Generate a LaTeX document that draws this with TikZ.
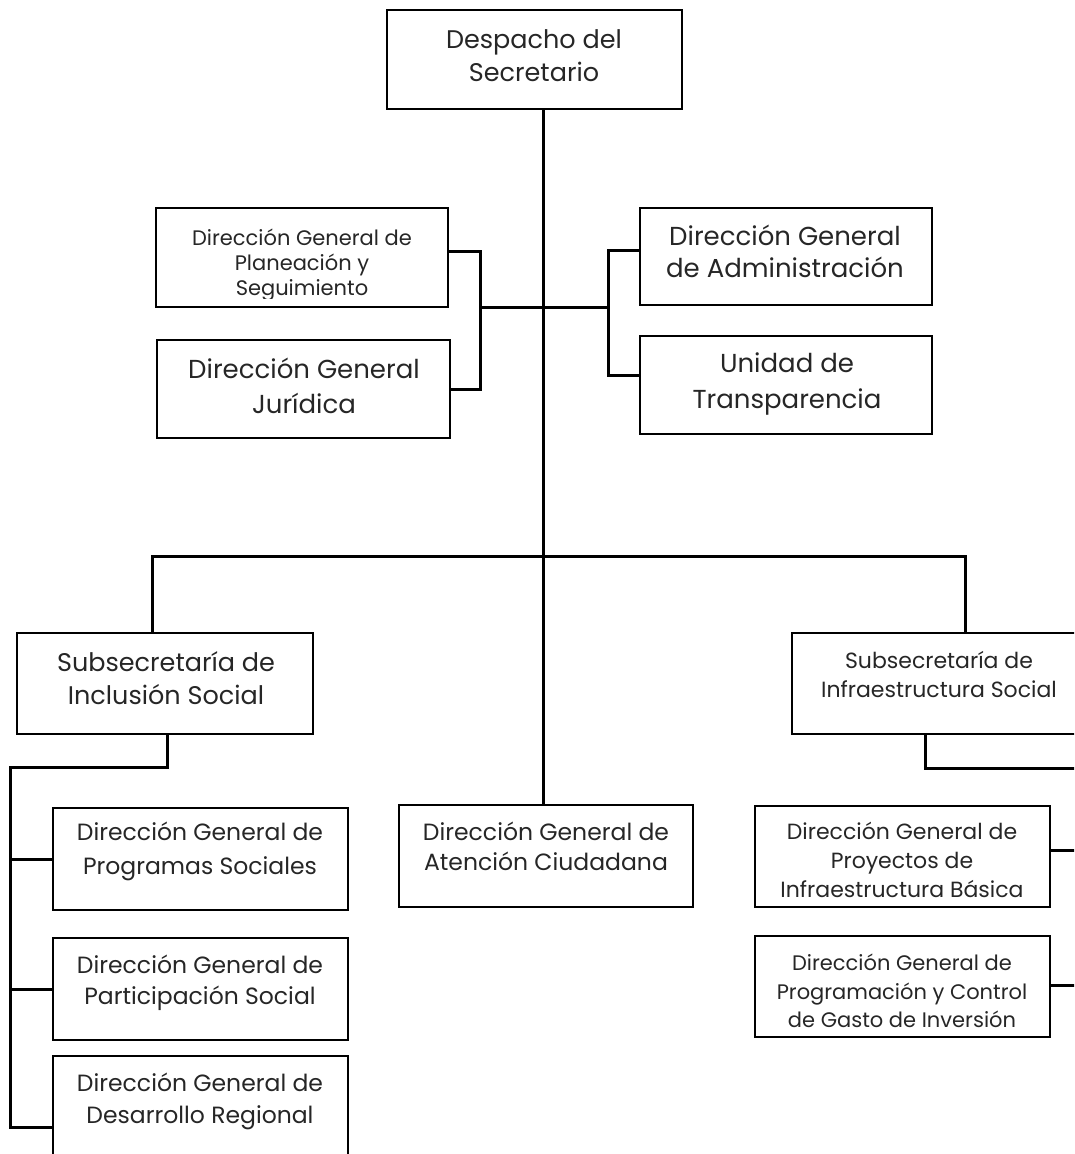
\documentclass[tikz,border=0pt]{standalone}
\usepackage{fontspec}
\setmainfont{Poppins}
\begin{document}
\begin{tikzpicture}[x=1pt,y=-1pt,
  box/.style={draw=black, line width=2.2pt, rectangle, inner sep=0pt, outer sep=0pt},
  conn/.style={draw=black, line width=3pt},
  tl/.style={anchor=base, inner sep=0pt, outer sep=0pt, text=black!85},
  fA/.style={font=\fontsize{25.5}{25.5}\selectfont},
  fB/.style={font=\fontsize{26}{26}\selectfont},
  fC/.style={font=\fontsize{21}{21}\selectfont},
  fD/.style={font=\fontsize{22}{22}\selectfont},
  fF/.style={font=\fontsize{23.5}{23.5}\selectfont},
  fE/.style={font=\fontsize{25.5}{25.5}\selectfont}]
\useasboundingbox (0,0) rectangle (1074,1154);
\clip (0,0) rectangle (1074,1154);

% boxes
\node[box, minimum width=295, minimum height=99] (desp) at (534.5,59.5) {};
\node[box, minimum width=292, minimum height=99] (plan) at (302,257.5) {};
\node[box, minimum width=293, minimum height=98] (jur) at (303.5,389) {};
\node[box, minimum width=292, minimum height=97] (admin) at (786,256.5) {};
\node[box, minimum width=292, minimum height=98] (unid) at (786,385) {};
\node[box, minimum width=296, minimum height=101] (incl) at (165,683.5) {};
\node[box, minimum width=294, minimum height=101] (infra) at (939,683.5) {};
\node[box, minimum width=294, minimum height=102] (aten) at (546,856) {};
\node[box, minimum width=295, minimum height=102] (prog) at (200.5,859) {};
\node[box, minimum width=295, minimum height=102] (part) at (200.5,989) {};
\node[box, minimum width=295, minimum height=102] (desa) at (200.5,1107) {};
\node[box, minimum width=295, minimum height=101] (proy) at (902.5,856.5) {};
\node[box, minimum width=295, minimum height=101] (progr) at (902.5,986.5) {};

% helper coordinates
\coordinate (mx) at (543,0);
\coordinate (lbr) at (480,307);
\coordinate (rbr) at (608,307);
\coordinate (hbL) at (152,556);
\coordinate (hbR) at (965,556);
\coordinate (istub) at (167,767);
\coordinate (ileft) at (10,767);
\coordinate (ibot) at (10,1127);
\coordinate (fstub) at (925,768);
\coordinate (fend) at (1090,768);
\coordinate (pend1) at (1090,850);
\coordinate (pend2) at (1090,985);

% connectors
\draw[conn] (desp.south -| mx) -- (aten.north -| mx);
\draw[conn] (lbr) -- (rbr);
\draw[conn] (plan.east |- 0,251) -| (lbr) |- (jur.east);
\draw[conn] (admin.west |- 0,250) -| (rbr) |- (unid.west |- 0,375);
\draw[conn] (incl.north -| hbL) |- (hbR) -- (infra.north -| hbR);
\draw[conn] (incl.south -| istub) |- (ileft) -- (ibot) -- (desa.west |- ibot);
\draw[conn] (ileft |- prog.west) -- (prog.west);
\draw[conn] (ileft |- part.west) -- (part.west);
\draw[conn] (infra.south -| fstub) |- (fend);
\draw[conn] (proy.east |- pend1) -- (pend1);
\draw[conn] (progr.east |- pend2) -- (pend2);

% texts
\node[tl,fA] (t1a) at (534,48) {Despacho del};
\node[tl,fA] (t1b) at (534,81) {Secretario};

\begin{scope}
\clip (158,210) rectangle (446,298);
\node[tl,fC] (t2a) at (302,245) {Dirección General de};
\node[tl,fC] (t2b) at (302,270) {Planeación y};
\node[tl,fC] (t2c) at (302,295) {Seguimiento};
\end{scope}

\node[tl,fB] (t3a) at (304,378) {Dirección General};
\node[tl,fB] (t3b) at (304,413) {Jurídica};

\node[tl,fB] (t4a) at (785,245) {Dirección General};
\node[tl,fB] (t4b) at (785,277) {de Administración};

\node[tl,fB] (t5a) at (787,372) {Unidad de};
\node[tl,fB] (t5b) at (787,408) {Transparencia};

\node[tl,fE] (t6a) at (166,671) {Subsecretaría de};
\node[tl,fE] (t6b) at (166,704) {Inclusión Social};

\node[tl,fD] (t7a) at (939,668) {Subsecretaría de};
\node[tl,fD] (t7b) at (939,697) {Infraestructura Social};

\node[tl,fF] (t8a) at (546,840) {Dirección General de};
\node[tl,fF] (t8b) at (546,870) {Atención Ciudadana};

\node[tl,fF] (t9a) at (200,840) {Dirección General de};
\node[tl,fF] (t9b) at (200,874) {Programas Sociales};

\node[tl,fF] (t10a) at (200,973) {Dirección General de};
\node[tl,fF] (t10b) at (200,1004) {Participación Social};

\node[tl,fF] (t11a) at (200,1091) {Dirección General de};
\node[tl,fF] (t11b) at (200,1123) {Desarrollo Regional};

\node[tl,fD] (t12a) at (902,839) {Dirección General de};
\node[tl,fD] (t12b) at (902,868) {Proyectos de};
\node[tl,fD] (t12c) at (902,897) {Infraestructura Básica};

\node[tl,fC] (t13a) at (902,970) {Dirección General de};
\node[tl,fC] (t13b) at (902,999) {Programación y Control};
\node[tl,fC] (t13c) at (902,1027) {de Gasto de Inversión};
\end{tikzpicture}
\end{document}
